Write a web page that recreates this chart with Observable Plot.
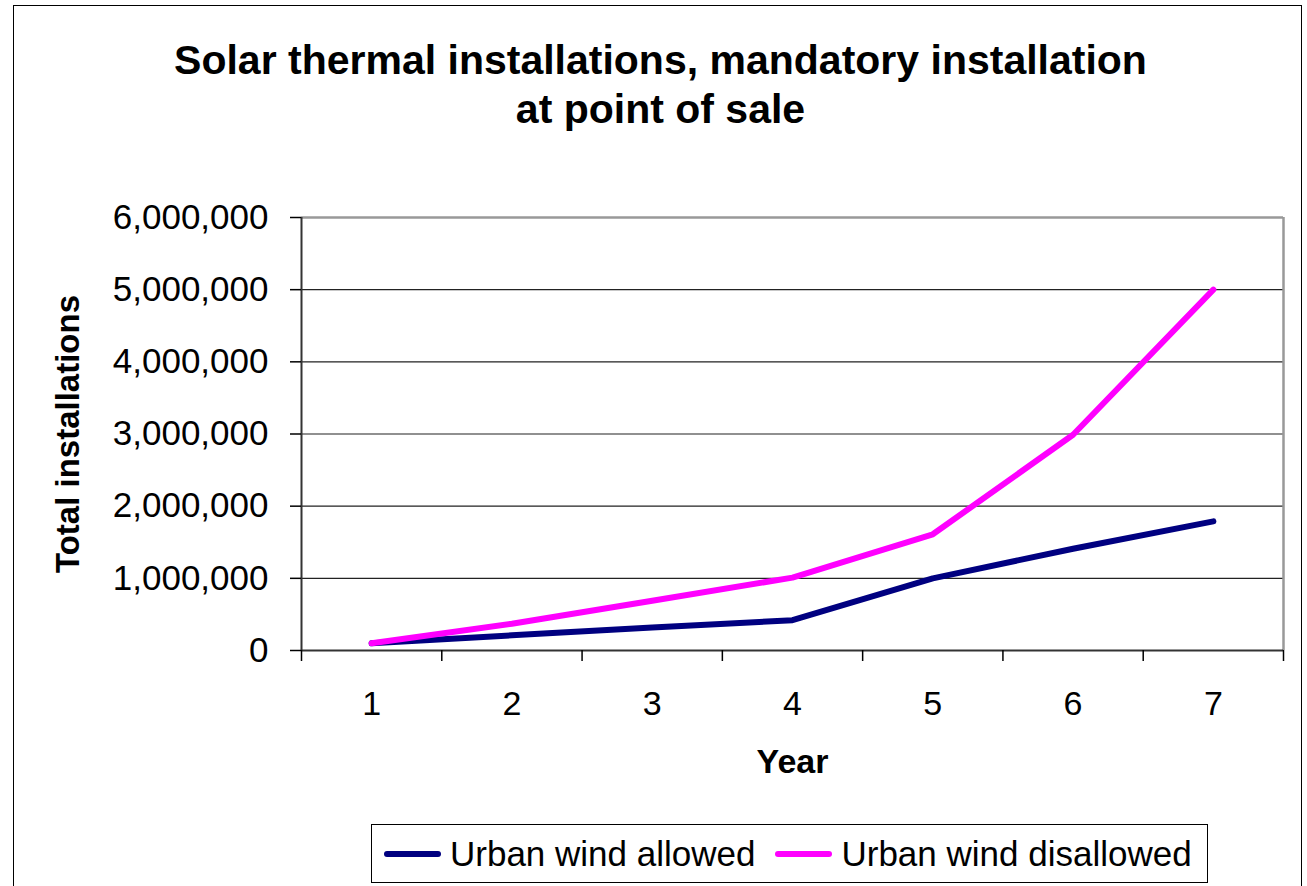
<!DOCTYPE html>
<html>
<head>
<meta charset="utf-8">
<script src="https://cdn.jsdelivr.net/npm/d3@7"></script>
<script src="https://cdn.jsdelivr.net/npm/@observablehq/plot@0.6"></script>
<style>
  html, body { margin: 0; padding: 0; background: #fff; }
  body { font-family: "Liberation Sans", Arial, sans-serif; color: #000; }
  #page { position: relative; width: 1307px; height: 886px; overflow: hidden; }
  #frame { position: absolute; left: 13px; top: 5px; width: 1289px; height: 920px;
           border: 1.5px solid #000; pointer-events: none; box-sizing: border-box; }
  #title { height: 180px; box-sizing: border-box; padding-top: 36px; padding-left: 14px;
           text-align: center; font-weight: bold; font-size: 41px; line-height: 49px; }
  #chart svg { display: block; }
  #legendWrap { height: 76px; }
  #legend { margin-left: 371px; margin-top: 14px; width: 837px; height: 59px; box-sizing: border-box;
            border: 1.5px solid #000; display: flex; align-items: center; padding-left: 12px;
            font-size: 35px; white-space: nowrap; }
  .item { display: flex; align-items: center; margin-right: 20px; }
  .sw { width: 57px; height: 6px; border-radius: 3px; margin-right: 9px; }
</style>
</head>
<body>
<div id="page">
  <div id="title">Solar thermal installations, mandatory installation<br>at point of sale</div>
  <div id="chart"></div>
  <div id="legendWrap"><div id="legend"></div></div>
  <div id="frame"></div>
</div>
<script>
const years = [1, 2, 3, 4, 5, 6, 7];
const allowed = [100000, 210000, 320000, 420000, 1000000, 1410000, 1790000];
const disallowed = [100000, 370000, 690000, 1010000, 1610000, 2990000, 5000000];
const yTicks = [0, 1000000, 2000000, 3000000, 4000000, 5000000, 6000000];
const seriesNames = ["Urban wind allowed", "Urban wind disallowed"];
const seriesColors = ["#000080", "#FF00FF"];
const xLabel = "Year";
const yLabel = "Total installations";

const data = [
  ...years.map((yr, i) => ({year: yr, value: allowed[i], series: seriesNames[0]})),
  ...years.map((yr, i) => ({year: yr, value: disallowed[i], series: seriesNames[1]}))
];
const boundaries = years.map(y => y - 0.5).concat([years[years.length - 1] + 0.5]);
const xMin = boundaries[0], xMax = boundaries[boundaries.length - 1];
const yMax = yTicks[yTicks.length - 1];

const plot = Plot.plot({
  width: 1307,
  height: 630,
  marginLeft: 301,
  marginRight: 24,
  marginTop: 37,
  marginBottom: 160,
  style: {fontFamily: '"Liberation Sans", Arial, sans-serif', fontSize: "34px", color: "#000", background: "#fff", overflow: "visible"},
  x: {type: "linear", domain: [xMin, xMax]},
  y: {domain: [0, yMax]},
  color: {domain: seriesNames, range: seriesColors},
  marks: [
    Plot.ruleY(yTicks.slice(1, yTicks.length - 1), {stroke: "#222", strokeWidth: 1.2}),
    Plot.ruleY([yMax], {stroke: "#999", strokeWidth: 2.5}),
    Plot.ruleX([xMax], {stroke: "#999", strokeWidth: 2.5}),
    Plot.ruleX([xMin], {stroke: "#333", strokeWidth: 2}),
    Plot.ruleY([0], {stroke: "#333", strokeWidth: 2}),
    Plot.axisY({ticks: yTicks, tickFormat: d3.format(","), tickSize: 11, tickPadding: 22, label: null, fontSize: 35, strokeWidth: 1.5}),
    Plot.axisX({ticks: boundaries, tickFormat: () => "", tickSize: 11, label: null, strokeWidth: 1.5}),
    Plot.axisX({ticks: years, tickFormat: d => String(d), tickSize: 0, tickPadding: 40, label: null, fontSize: 34}),
    Plot.line(data, {x: "year", y: "value", stroke: "series", strokeWidth: 6, strokeLinecap: "round", strokeLinejoin: "round"}),
    Plot.text([yLabel], {text: d => d, frameAnchor: "left", textAnchor: "middle", lineAnchor: "middle", dx: -233, rotate: -90, fontSize: 33, fontWeight: "bold"}),
    Plot.text([xLabel], {text: d => d, frameAnchor: "bottom", textAnchor: "middle", lineAnchor: "middle", dy: 112, fontSize: 34, fontWeight: "bold"})
  ]
});
document.getElementById("chart").appendChild(plot);

const legend = document.getElementById("legend");
seriesNames.forEach((name, i) => {
  const item = document.createElement("div");
  item.className = "item";
  const sw = document.createElement("div");
  sw.className = "sw";
  sw.style.background = seriesColors[i];
  const label = document.createElement("span");
  label.textContent = name;
  item.appendChild(sw);
  item.appendChild(label);
  legend.appendChild(item);
});
</script>
</body>
</html>
